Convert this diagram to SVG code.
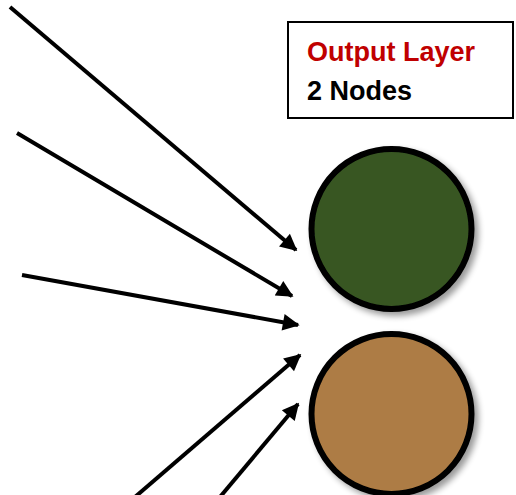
<svg xmlns="http://www.w3.org/2000/svg" width="516" height="495" viewBox="0 0 516 495">
  <style>
    .edge { stroke: #000; stroke-width: 4; fill: none; marker-end: url(#head); }
    .node { stroke: #000; stroke-width: 6; filter: url(#shadow); }
    .label { font-family: "Liberation Sans", Arial, sans-serif; font-weight: bold; font-size: 27px; }
  </style>
  <defs>
    <marker id="head" viewBox="0 0 10 10" refX="9" refY="5" markerWidth="5.2" markerHeight="4.2" orient="auto" markerUnits="strokeWidth">
      <path d="M0,0 L10,5 L0,10 Z" fill="#000"/>
    </marker>
    <filter id="shadow" x="-20%" y="-20%" width="150%" height="150%">
      <feGaussianBlur in="SourceAlpha" stdDeviation="3"/>
      <feOffset dx="4" dy="4" result="b"/>
      <feComponentTransfer><feFuncA type="linear" slope="0.4"/></feComponentTransfer>
      <feMerge><feMergeNode/><feMergeNode in="SourceGraphic"/></feMerge>
    </filter>
  </defs>
  <rect width="516" height="495" fill="#fff"/>

  <g id="connectors">
    <line class="edge" x1="10" y1="7" x2="296" y2="250"/>
    <line class="edge" x1="17" y1="133" x2="292" y2="296"/>
    <line class="edge" x1="22" y1="275" x2="298" y2="325"/>
    <line class="edge" x1="135" y1="497" x2="300" y2="355"/>
    <line class="edge" x1="220" y1="497" x2="298" y2="404"/>
  </g>

  <g id="output-node-1">
    <circle class="node" cx="391.5" cy="229" r="80" fill="#385723"/>
  </g>
  <g id="output-node-2">
    <circle class="node" cx="391.5" cy="414" r="80" fill="#AD7C44"/>
  </g>

  <g id="layer-label">
    <rect x="288" y="22" width="225" height="96" fill="#fff" stroke="#000" stroke-width="2"/>
    <text class="label" x="307" y="61" fill="#C00000">Output Layer</text>
    <text class="label" x="307" y="100" fill="#000">2 Nodes</text>
  </g>
</svg>
